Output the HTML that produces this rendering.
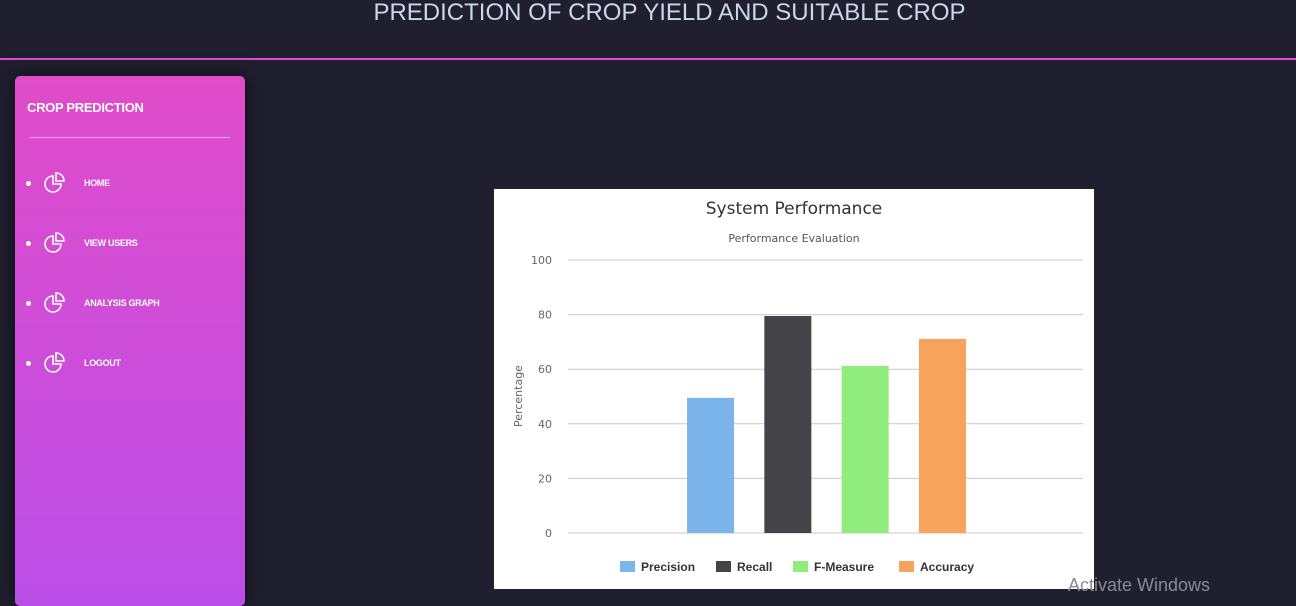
<!DOCTYPE html>
<html><head><meta charset="utf-8"><style>
body{margin:0;width:1296px;height:593px;background:#1f1f2f;overflow:hidden;font-family:"Liberation Sans",sans-serif;position:relative}
.hdr{position:absolute;left:0;top:0;width:1296px;height:58px;border-bottom:2px solid #d94fc9;background:#1f1f2f}
.hdr h1{position:absolute;left:365px;top:0;width:609px;margin:0;text-align:center;color:#cdd6e6;font-weight:normal;font-size:24px;line-height:26px;white-space:nowrap}
.side{position:absolute;left:15px;top:76px;width:230px;height:530px;border-radius:5px;background:linear-gradient(#e04cc9,#bb4ee8);box-shadow:0 0 20px rgba(0,0,0,.6)}
.side .t{position:absolute;left:12px;top:24px;color:#fff;font-size:13px;letter-spacing:-0.3px;font-weight:bold}
.side .ln{position:absolute;left:15px;top:61px;width:200px;height:1px;background:#f3a7ee}
.item{position:absolute;left:0;width:230px;height:24px;color:#fff;font-size:9px;letter-spacing:-0.3px;font-weight:bold}
.item .dot{position:absolute;left:11px;top:10px;width:5px;height:5px;border-radius:50%;background:#fff}
.item svg{position:absolute;left:29px;top:1px}
.item span{position:absolute;left:69px;top:7px}
.chart{position:absolute;left:494px;top:189px;width:600px;height:400px;background:#fff}
.wm{position:absolute;left:1068px;top:575px;color:#8a8a94;font-size:18px}
</style></head><body>
<div class="hdr"><h1>PREDICTION OF CROP YIELD AND SUITABLE CROP</h1></div>
<div class="side">
<div class="t">CROP PREDICTION</div>
<div class="ln"></div>
<div class="item" style="top:95px"><div class="dot"></div><svg width="22" height="22" viewBox="0 0 22 22"><path d="M9 4 A8 8 0 1 0 17 12 L9 12 Z" fill="none" stroke="#fff" stroke-width="1.6"/><path d="M12 1 A8 8 0 0 1 20 9 L12 9 Z" fill="none" stroke="#fff" stroke-width="1.6"/></svg><span>HOME</span></div>
<div class="item" style="top:155px"><div class="dot"></div><svg width="22" height="22" viewBox="0 0 22 22"><path d="M9 4 A8 8 0 1 0 17 12 L9 12 Z" fill="none" stroke="#fff" stroke-width="1.6"/><path d="M12 1 A8 8 0 0 1 20 9 L12 9 Z" fill="none" stroke="#fff" stroke-width="1.6"/></svg><span>VIEW USERS</span></div>
<div class="item" style="top:215px"><div class="dot"></div><svg width="22" height="22" viewBox="0 0 22 22"><path d="M9 4 A8 8 0 1 0 17 12 L9 12 Z" fill="none" stroke="#fff" stroke-width="1.6"/><path d="M12 1 A8 8 0 0 1 20 9 L12 9 Z" fill="none" stroke="#fff" stroke-width="1.6"/></svg><span>ANALYSIS GRAPH</span></div>
<div class="item" style="top:275px"><div class="dot"></div><svg width="22" height="22" viewBox="0 0 22 22"><path d="M9 4 A8 8 0 1 0 17 12 L9 12 Z" fill="none" stroke="#fff" stroke-width="1.6"/><path d="M12 1 A8 8 0 0 1 20 9 L12 9 Z" fill="none" stroke="#fff" stroke-width="1.6"/></svg><span>LOGOUT</span></div>
</div>
<div class="chart">
<svg id="svg" width="600" height="400" font-family="DejaVu Sans, Liberation Sans, sans-serif">
<text x="300" y="25" text-anchor="middle" font-size="17" fill="#333">System Performance</text>
<text x="300" y="53" text-anchor="middle" font-size="11" fill="#555">Performance Evaluation</text>
<text transform="translate(28,207) rotate(-90)" text-anchor="middle" font-size="11" fill="#666">Percentage</text>
</svg>
</div>
<div class="wm">Activate Windows</div>
<script>
const series=["Precision","Recall","F-Measure","Accuracy"];
const values=[49.5,79.5,61.2,71.1];
const colors=["#7cb5ec","#434348","#90ed7d","#f7a35c"];
const ticks=[0,20,40,60,80,100];
const svg=document.getElementById('svg');const NS="http://www.w3.org/2000/svg";
const x0=74,x1=589,y0=344,yTop=71;
const y=v=>y0-(v/100)*(y0-yTop);
function mk(t,a){const e=document.createElementNS(NS,t);for(const k in a)e.setAttribute(k,a[k]);svg.appendChild(e);return e;}
ticks.forEach(t=>{const l=mk('line',{x1:x0,x2:x1,y1:y(t),y2:y(t),stroke:'#c8c8c8','stroke-width':1});


const tx=mk('text',{x:58,y:y(t)+4,'text-anchor':'end','font-size':11,fill:'#666'});tx.textContent=t;

});
const step=77.3,bw=47,cx=(x0+x1)/2+1;
values.forEach((v,i)=>{const bx=cx+(i-(values.length-1)/2)*step-bw/2;
const r=mk('rect',{x:bx,y:y(v),width:bw,height:y0-y(v),fill:colors[i]});

});
const lx=[126,222,299,405];
series.forEach((s,i)=>{const r=mk('rect',{x:lx[i],y:372,width:15,height:11,fill:colors[i]});


const t=mk('text',{x:lx[i]+21,y:382,'font-size':12,'font-weight':'bold',fill:'#333','font-family':'Liberation Sans, sans-serif'});t.textContent=s;

});
</script>
</body></html>
